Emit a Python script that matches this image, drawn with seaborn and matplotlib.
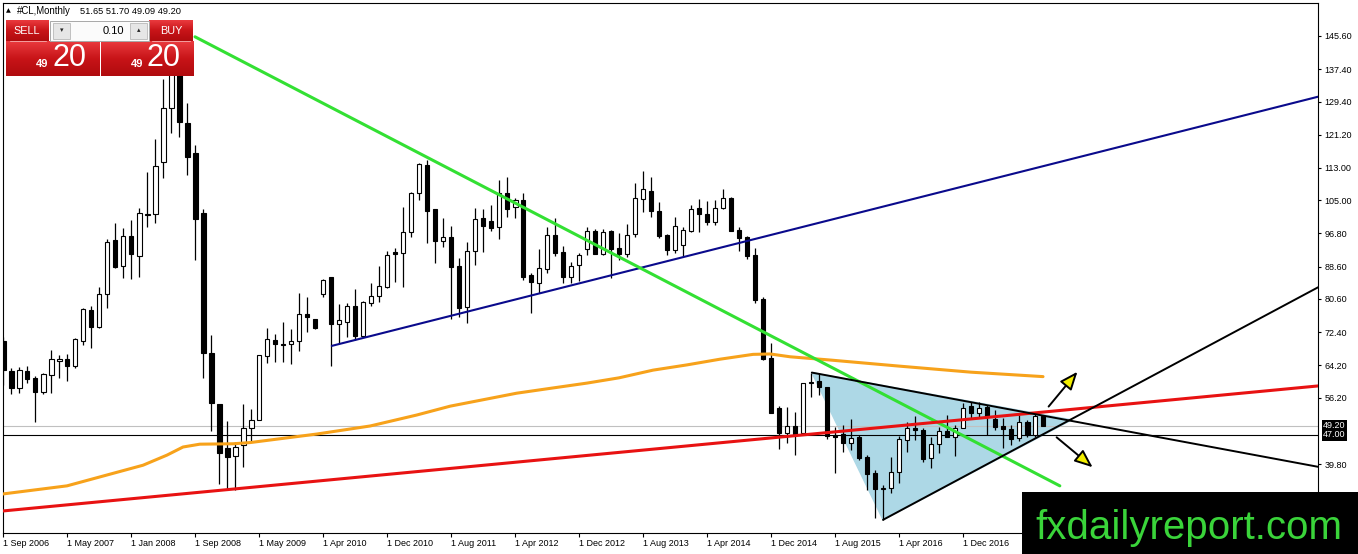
import numpy as np
import pandas as pd
import seaborn as sns
import matplotlib.pyplot as plt
import matplotlib.transforms as mtransforms
from matplotlib import font_manager
from matplotlib.colors import LinearSegmentedColormap
from matplotlib.patches import Rectangle

# Bougies mensuelles #CL (index de barre 0 = 1 Sep 2006)
opens = [
    70.2, 62.9, 58.5, 62.7, 61.1, 57.6, 61.8, 65.3, 65.7, 64.0,
    70.2, 77.9, 73.7, 81.7, 95.2, 88.7, 96.2, 91.3, 101.4, 101.5,
    114.5, 127.7, 140.0, 124.2, 116.6, 101.8, 67.2, 54.6, 43.8, 41.9,
    44.5, 48.8, 50.8, 66.5, 70.5, 69.5, 69.5, 70.2, 76.9, 75.6,
    81.7, 86.1, 74.3, 75.0, 78.9, 71.5, 79.7, 81.4, 83.6, 92.1,
    92.0, 97.1, 106.7, 113.7, 102.8, 95.0, 96.0, 88.7, 78.7, 92.5,
    100.5, 99.9, 98.5, 106.9, 103.4, 105.1, 86.5, 84.6, 88.0, 96.4,
    92.1, 86.0, 89.0, 92.9, 97.4, 91.6, 97.4, 93.1, 91.6, 96.6,
    105.3, 107.3, 102.3, 96.4, 92.7, 93.9, 97.4, 103.0, 101.5, 99.7,
    103.0, 105.5, 97.6, 95.8, 91.5, 80.6, 65.9, 53.6, 47.4, 49.3,
    47.4, 59.7, 60.3, 58.9, 47.0, 47.2, 45.1, 46.4, 41.6, 37.5,
    33.5, 33.8, 37.9, 45.7, 48.8, 48.2, 41.2, 44.7, 48.0, 46.5,
    48.8, 54.1, 52.5, 54.0, 50.9, 49.2, 48.45, 46.2, 50.3, 47.0,
    51.65]
highs = [
    71.2, 63.5, 63.8, 64.0, 61.5, 62.4, 68.0, 66.7, 67.0, 71.0,
    78.4, 78.9, 83.6, 95.4, 99.4, 98.1, 100.1, 103.2, 112.1, 120.1,
    135.0, 140.5, 147.3, 129.0, 118.7, 102.8, 71.7, 54.6, 50.4, 45.2,
    54.6, 53.3, 66.7, 73.3, 71.9, 74.8, 73.1, 82.0, 81.0, 75.6,
    85.5, 86.1, 79.3, 79.5, 83.0, 80.1, 84.5, 88.7, 92.5, 93.1,
    103.4, 107.1, 114.3, 115.0, 102.8, 100.5, 98.6, 90.6, 94.8, 103.2,
    102.8, 103.8, 110.0, 110.7, 105.5, 106.7, 86.9, 92.9, 98.5, 100.5,
    93.7, 89.8, 91.9, 98.5, 97.9, 97.9, 97.6, 97.0, 99.1, 109.3,
    112.2, 110.8, 104.6, 96.6, 100.8, 98.5, 103.8, 105.2, 104.9, 105.1,
    107.7, 105.9, 98.5, 96.2, 93.1, 81.2, 69.6, 54.1, 54.0, 52.7,
    59.7, 62.4, 62.2, 58.9, 49.0, 49.4, 50.9, 47.0, 42.0, 38.3,
    34.7, 41.6, 46.7, 50.3, 51.7, 48.8, 46.5, 49.0, 51.9, 49.4,
    54.8, 55.2, 55.2, 54.4, 53.1, 51.1, 49.4, 51.9, 50.7, 52.3,
    51.70]
lows = [
    59.3, 57.1, 57.4, 59.8, 50.3, 57.0, 57.3, 61.1, 60.4, 63.6,
    69.2, 68.5, 73.3, 78.3, 88.3, 85.7, 85.5, 86.1, 98.5, 99.4,
    110.4, 121.7, 120.6, 111.2, 90.2, 61.1, 48.0, 34.9, 33.4, 33.4,
    39.1, 45.3, 50.7, 64.8, 65.0, 65.0, 64.5, 67.8, 72.5, 73.1,
    81.2, 64.0, 69.6, 71.3, 70.5, 71.3, 78.9, 79.9, 83.2, 84.9,
    83.6, 96.0, 105.1, 94.5, 89.6, 93.4, 75.6, 76.2, 74.7, 89.0,
    92.3, 97.5, 95.3, 100.8, 100.5, 85.3, 77.2, 82.1, 86.9, 91.2,
    84.6, 84.5, 85.1, 91.5, 91.6, 91.5, 85.7, 90.2, 91.0, 96.0,
    102.2, 100.9, 95.7, 91.5, 91.9, 91.2, 97.1, 97.2, 98.9, 98.9,
    102.8, 97.5, 92.5, 90.4, 79.5, 65.5, 52.3, 43.4, 44.9, 42.0,
    47.4, 56.3, 56.9, 46.1, 37.5, 42.8, 43.3, 40.8, 33.4, 26.5,
    26.0, 32.6, 35.0, 42.8, 45.7, 40.4, 38.9, 42.4, 46.4, 41.8,
    48.6, 51.1, 51.5, 47.0, 48.2, 43.7, 44.5, 45.5, 46.5, 46.5,
    49.09]
closes = [
    63.0, 58.5, 63.0, 60.9, 57.6, 62.0, 65.7, 65.7, 64.0, 70.6,
    78.1, 73.7, 81.7, 94.6, 88.6, 96.2, 91.6, 101.8, 101.6, 113.5,
    127.7, 140.0, 124.3, 115.8, 100.4, 67.3, 54.8, 42.4, 41.6, 43.9,
    48.6, 50.8, 66.7, 70.6, 69.4, 69.1, 70.2, 76.9, 76.2, 73.3,
    85.3, 74.3, 75.3, 78.9, 71.5, 79.8, 81.3, 83.8, 91.5, 91.8,
    97.1, 106.9, 114.0, 102.4, 95.0, 95.8, 88.6, 78.4, 92.5, 100.4,
    98.7, 98.2, 106.9, 102.8, 105.1, 86.1, 84.9, 88.2, 96.4, 92.0,
    86.0, 88.8, 91.5, 97.4, 91.6, 97.2, 92.9, 91.6, 96.4, 105.5,
    107.7, 102.3, 96.2, 92.7, 98.6, 97.6, 102.8, 101.5, 99.5, 103.0,
    105.5, 97.5, 95.7, 91.2, 80.3, 65.8, 52.3, 47.5, 49.3, 47.2,
    59.7, 60.1, 58.9, 46.7, 46.5, 45.1, 46.2, 41.4, 37.3, 33.5,
    33.8, 37.9, 46.0, 48.6, 48.2, 41.0, 44.7, 48.0, 46.5, 48.8,
    53.7, 52.5, 53.7, 51.5, 49.0, 48.4, 46.0, 50.3, 47.0, 51.7,
    49.20]

# Moyenne mobile (orange)
ma_bar = [0, 8, 13.4, 17.5, 20.5, 22.5, 24.6, 28.75, 30.9, 39.2, 45.9, 51.7,
          55.9, 64.2, 68.4, 73.0, 77.0, 81.25, 85.5, 89.6, 93.75,
          95.9, 98.4, 103.4, 112.0, 121.0, 130.0]
ma_val = [32.4, 34.4, 37.3, 39.5, 42.0, 44.0, 44.7, 44.8, 45.1, 47.2, 49.2, 51.9,
          54.1, 57.3, 58.5, 59.8, 61.1, 63.0, 64.3, 65.7, 66.9,
          67.0, 66.3, 65.5, 64.0, 62.5, 61.4]

# Lignes de tendance (barre, prix)
green_bar, green_val = [24.0, 132.1], [145.4, 34.4]
blue_bar, blue_val = [41.1, 164.4], [69.0, 130.6]
red_bar, red_val = [-0.5, 164.4], [28.1, 59.1]
up_bar, up_val = [110.0, 164.4], [26.0, 83.5]
dn_bar, dn_val = [101.1, 164.4], [62.4, 39.1]
tri_bar, tri_val = [101.1, 110.0, 133.6], [62.4, 26.0, 50.7]
arrow_up = [(130.7, 54.0), (134.3, 62.6)]
arrow_dn = [(131.7, 46.4), (136.2, 39.0)]

bid_price = 49.20
hline_price = 47.00

ytick_vals = [145.60, 137.40, 129.40, 121.20, 113.00, 105.00, 96.80, 88.60,
              80.60, 72.40, 64.20, 56.20, 39.80, 31.60]
xtick_labels = ["1 Sep 2006", "1 May 2007", "1 Jan 2008", "1 Sep 2008",
                "1 May 2009", "1 Apr 2010", "1 Dec 2010", "1 Aug 2011",
                "1 Apr 2012", "1 Dec 2012", "1 Aug 2013", "1 Apr 2014",
                "1 Dec 2014", "1 Aug 2015", "1 Apr 2016", "1 Dec 2016"]
xtick_bars = list(range(0, 8 * len(xtick_labels), 8))

symbol = "#CL,Monthly"
lot = "0.10"

df = pd.DataFrame({"bar": np.arange(len(opens)), "open": opens, "high": highs,
                   "low": lows, "close": closes})

sns.set_style("white")
plt.rcParams["font.family"] = ["Liberation Sans", "DejaVu Sans"]

W, H = 1358, 554
fig = plt.figure(figsize=(W / 100, H / 100), dpi=100)
ax = fig.add_axes([2.7 / W, 1 - 533.3 / H, (1318.3 - 2.7) / W, (533.3 - 2.7) / H])

# Triangle rempli
ax.fill(tri_bar, tri_val, color="#add8e6", zorder=1)

# Lignes de prix
ax.axhline(bid_price, color="#c0c0c0", lw=0.8, zorder=1.5)
ax.axhline(hline_price, color="black", lw=0.8, zorder=1.5)

# Bougies
up = df["close"] >= df["open"]
ax.vlines(df["bar"], df["low"], df["high"], color="black", lw=0.9, zorder=2)
body_lo = df[["open", "close"]].min(axis=1)
body_h = (df["close"] - df["open"]).abs().clip(lower=0.15)
ax.bar(df["bar"], body_h, bottom=body_lo, width=0.62,
       color=np.where(up, "white", "black"), edgecolor="black", lw=0.8, zorder=3)

# Moyenne mobile
sns.lineplot(x=ma_bar, y=ma_val, ax=ax, color="#f7a21b", lw=2.2, zorder=4)

# Tendances
ax.plot(blue_bar, blue_val, color="#0a0a8c", lw=1.5, zorder=4)
ax.plot(green_bar, green_val, color="#33e033", lw=2.2, zorder=4)
ax.plot(red_bar, red_val, color="#e81212", lw=2.2, zorder=4)
ax.plot(up_bar, up_val, color="black", lw=1.4, zorder=4)
ax.plot(dn_bar, dn_val, color="black", lw=1.4, zorder=4)

for start, tip in [arrow_up, arrow_dn]:
    ax.annotate("", xy=tip, xytext=start, zorder=5,
                arrowprops=dict(arrowstyle="-|>,head_length=1.1,head_width=0.45",
                                fc="#f2ee00", ec="black", lw=1.4,
                                shrinkA=0, shrinkB=0))

ax.set_xlim(-0.04, 164.41)
ax.set_ylim(22.67, 153.83)
ax.set_xlabel("")
ax.set_ylabel("")

for s in ax.spines.values():
    s.set_color("black")
    s.set_linewidth(0.8)

ax.yaxis.tick_right()
ax.set_yticks(ytick_vals)
ax.set_yticklabels([f"{v:.2f}" for v in ytick_vals])
ax.tick_params(axis="y", right=True, left=False, labelright=True, labelleft=False,
               direction="out", length=2.5, width=0.8, pad=2,
               labelsize=6.5, colors="black")
ax.set_xticks(xtick_bars)
ax.set_xticklabels(xtick_labels)
ax.tick_params(axis="x", bottom=True, direction="out", length=3, width=0.8,
               pad=1.2, labelsize=6.5, colors="black")
for lbl in ax.get_xticklabels():
    lbl.set_ha("left")

# Etiquettes de prix sur l'axe
tr = mtransforms.blended_transform_factory(ax.transAxes, ax.transData)
for price in [bid_price, hline_price]:
    ax.text(1.0 + 5 / 1315.6, price, f"{price:.2f}", transform=tr, color="white",
            fontsize=6.5, va="center", ha="left", clip_on=False,
            bbox=dict(boxstyle="square,pad=0.15", fc="black", ec="none"))

# Superposition : titre, panneau SELL/BUY, filigrane
ov = fig.add_axes([0, 0, 1, 1], zorder=5)
ov.axis("off")

ov.text(6, 11, "▲", fontsize=4.5, va="center", ha="left", color="black",
        family=["DejaVu Sans"])
ov.text(17, 11, symbol, fontsize=6.9, va="center", ha="left", color="black")
ov.text(80, 11, f"{opens[-1]:.2f} {highs[-1]:.2f} {lows[-1]:.2f} {closes[-1]:.2f}",
        fontsize=6.7, va="center", ha="left", color="black")

reds = LinearSegmentedColormap.from_list("reds", ["#ea3a3e", "#c81418", "#b00b0e"])
grad = np.linspace(0, 1, 64).reshape(-1, 1)
for x0, x1, y0, y1 in [(6, 49, 20.5, 41), (149, 193, 20.5, 41),
                       (6, 99.3, 41, 76), (100.7, 193, 41, 76)]:
    ov.imshow(grad, cmap=reds, extent=(x0, x1, y1, y0), aspect="auto",
              interpolation="bilinear")
ov.plot([10, 46], [41.3, 41.3], color="#f3a0a0", lw=0.7)
ov.plot([152, 190], [41.3, 41.3], color="#f3a0a0", lw=0.7)

ov.add_patch(Rectangle((50, 20.5), 98.5, 20, fc="#fbfbfb", ec="#a8a8a8", lw=0.7))
ov.add_patch(Rectangle((53, 22.5), 17, 16, fc="#e6e6e6", ec="#b8b8b8", lw=0.6))
ov.add_patch(Rectangle((130, 22.5), 17, 16, fc="#e6e6e6", ec="#b8b8b8", lw=0.6))
ov.text(61.5, 30.5, "▾", fontsize=5, ha="center", va="center", family=["DejaVu Sans"])
ov.text(138.5, 30, "▴", fontsize=5, ha="center", va="center", family=["DejaVu Sans"])
ov.text(124, 30.5, lot, fontsize=8, ha="right", va="center", color="black")

ov.text(27, 31, "SELL", fontsize=7.8, ha="center", va="center", color="white")
ov.text(171, 31, "BUY", fontsize=7.8, ha="center", va="center", color="white")
price_str = f"{closes[-1]:.2f}"
for x_small, x_big in [(48, 69), (143, 164)]:
    ov.text(x_small, 64, price_str[:2], fontsize=8, ha="right", va="center",
            color="white", fontweight="bold")
    ov.text(x_big, 58.5, price_str[3:], fontsize=22, ha="center", va="center",
            color="white")

names = {f.name for f in font_manager.fontManager.ttflist}
if "Liberation Sans Narrow" in names:
    wm_family, wm_size = ["Liberation Sans Narrow"], 35
else:
    wm_family, wm_size = ["Liberation Sans"], 29
ov.add_patch(Rectangle((1022, 492), 336, 62, fc="black", ec="none"))
ov.text(1189, 539, "fxdailyreport.com", family=wm_family, fontsize=wm_size,
        ha="center", va="baseline", color="#3ad43a")

ov.set_xlim(0, W)
ov.set_ylim(H, 0)

fig.savefig("out.png", dpi=100)
